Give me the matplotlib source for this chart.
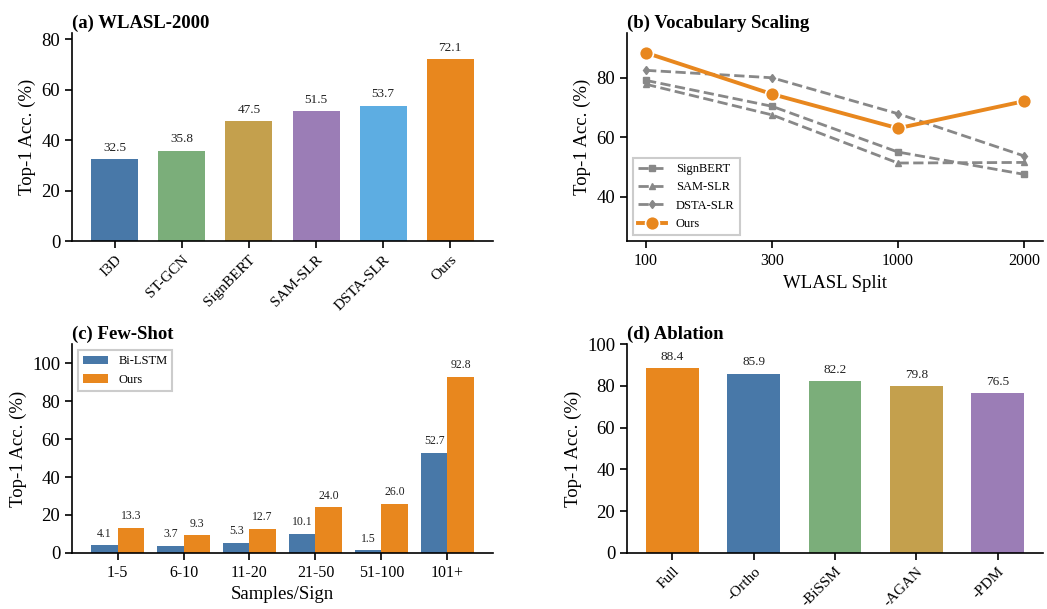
import matplotlib
matplotlib.use("Agg")
import matplotlib.pyplot as plt
import numpy as np

plt.rcParams['font.family'] = ['Liberation Serif', 'DejaVu Serif']
plt.rcParams['axes.linewidth'] = 1.2

BLUE = '#4878A8'
GREEN = '#7BAE7A'
GOLD = '#C4A04D'
PURPLE = '#9B7DB6'
LIGHTBLUE = '#5DADE2'
ORANGE = '#E8871E'
GRAY = '#888888'

# (a) WLASL-2000
methods = ['I3D', 'ST-GCN', 'SignBERT', 'SAM-SLR', 'DSTA-SLR', 'Ours']
wlasl_acc = [32.5, 35.8, 47.5, 51.5, 53.7, 72.1]

# (b) vocabulary scaling
splits = ['100', '300', '1000', '2000']
signbert_scale = [79.1, 70.4, 55.0, 47.5]
samslr_scale = [77.8, 67.5, 51.3, 51.5]
dstaslr_scale = [82.5, 80.0, 67.9, 53.7]
ours_scale = [88.4, 74.5, 63.0, 72.1]

# (c) few-shot
shot_bins = ['1-5', '6-10', '11-20', '21-50', '51-100', '101+']
bilstm_shot = [4.1, 3.7, 5.3, 10.1, 1.5, 52.7]
ours_shot = [13.3, 9.3, 12.7, 24.0, 26.0, 92.8]

# (d) ablation
variants = ['Full', '-Ortho', '-BiSSM', '-AGAN', '-PDM']
ablation_acc = [88.4, 85.9, 82.2, 79.8, 76.5]

fig = plt.figure(figsize=(10.47, 6.09), dpi=100)
ax_a = fig.add_axes([0.0688, 0.604, 0.402, 0.3415])
ax_b = fig.add_axes([0.599, 0.604, 0.397, 0.3415])
ax_c = fig.add_axes([0.0688, 0.092, 0.402, 0.343])
ax_d = fig.add_axes([0.599, 0.092, 0.397, 0.343])

for ax in (ax_a, ax_b, ax_c, ax_d):
    ax.spines['top'].set_visible(False)
    ax.spines['right'].set_visible(False)
    ax.tick_params(labelsize=13.5, length=5, width=1.2)
    ax.set_ylabel('Top-1 Acc. (%)', fontsize=13.5)


def label_bars(ax, bars, values, size=9.5):
    for b, v in zip(bars, values):
        ax.annotate(f'{v:.1f}', (b.get_x() + b.get_width() / 2, b.get_height()),
                    xytext=(0, 4), textcoords='offset points',
                    ha='center', va='bottom', fontsize=size, color='#222222')


def panel_title(ax, text):
    ax.set_title(text, loc='left', fontweight='bold', fontsize=13.5, pad=4)


# (a)
xa = np.arange(len(methods))
bars = ax_a.bar(xa, wlasl_acc, width=0.7,
                color=[BLUE, GREEN, GOLD, PURPLE, LIGHTBLUE, ORANGE])
label_bars(ax_a, bars, wlasl_acc)
ax_a.set_xticks(xa)
ax_a.set_xticklabels(methods, rotation=45, ha='right', rotation_mode='anchor', fontsize=11)
ax_a.set_ylim(0, 82.5)
ax_a.set_yticks([0, 20, 40, 60, 80])
panel_title(ax_a, '(a) WLASL-2000')

# (b)
xb = np.arange(len(splits))
ax_b.plot(xb, signbert_scale, '--', color=GRAY, lw=2, marker='s', ms=4.5, label='SignBERT')
ax_b.plot(xb, samslr_scale, '--', color=GRAY, lw=2, marker='^', ms=4.5, label='SAM-SLR')
ax_b.plot(xb, dstaslr_scale, '--', color=GRAY, lw=2, marker='d', ms=4.5, label='DSTA-SLR')
ax_b.plot(xb, ours_scale, '-', color=ORANGE, lw=2.8, marker='o', ms=10,
          mec='white', mew=1.2, label='Ours')
ax_b.set_xticks(xb)
ax_b.set_xticklabels(splits, fontsize=11.5)
ax_b.set_ylim(25, 95)
ax_b.set_yticks([40, 60, 80])
ax_b.set_xlabel('WLASL Split', fontsize=13.5)
panel_title(ax_b, '(b) Vocabulary Scaling')
leg = ax_b.legend(loc='lower left', fontsize=9, fancybox=False, edgecolor='#cccccc',
                  framealpha=1, handlelength=2.2)
leg.get_frame().set_linewidth(1.5)

# (c)
xc = np.arange(len(shot_bins))
b1 = ax_c.bar(xc - 0.2, bilstm_shot, width=0.4, color=BLUE, label='Bi-LSTM')
b2 = ax_c.bar(xc + 0.2, ours_shot, width=0.4, color=ORANGE, label='Ours')
label_bars(ax_c, b1, bilstm_shot, size=8.5)
label_bars(ax_c, b2, ours_shot, size=8.5)
ax_c.set_xticks(xc)
ax_c.set_xticklabels(shot_bins, fontsize=11.5)
ax_c.set_ylim(0, 110)
ax_c.set_yticks([0, 20, 40, 60, 80, 100])
ax_c.set_xlabel('Samples/Sign', fontsize=13.5)
panel_title(ax_c, '(c) Few-Shot')
leg = ax_c.legend(loc='upper left', fontsize=9, fancybox=False, edgecolor='#cccccc',
                  framealpha=1, handlelength=2.0)
leg.get_frame().set_linewidth(1.5)

# (d)
xd = np.arange(len(variants))
bars = ax_d.bar(xd, ablation_acc, width=0.65, color=[ORANGE, BLUE, GREEN, GOLD, PURPLE])
label_bars(ax_d, bars, ablation_acc)
ax_d.set_xticks(xd)
ax_d.set_xticklabels(variants, rotation=45, ha='right', rotation_mode='anchor', fontsize=11)
ax_d.set_ylim(0, 100)
ax_d.set_yticks([0, 20, 40, 60, 80, 100])
panel_title(ax_d, '(d) Ablation')

fig.savefig('out.png', dpi=100)
